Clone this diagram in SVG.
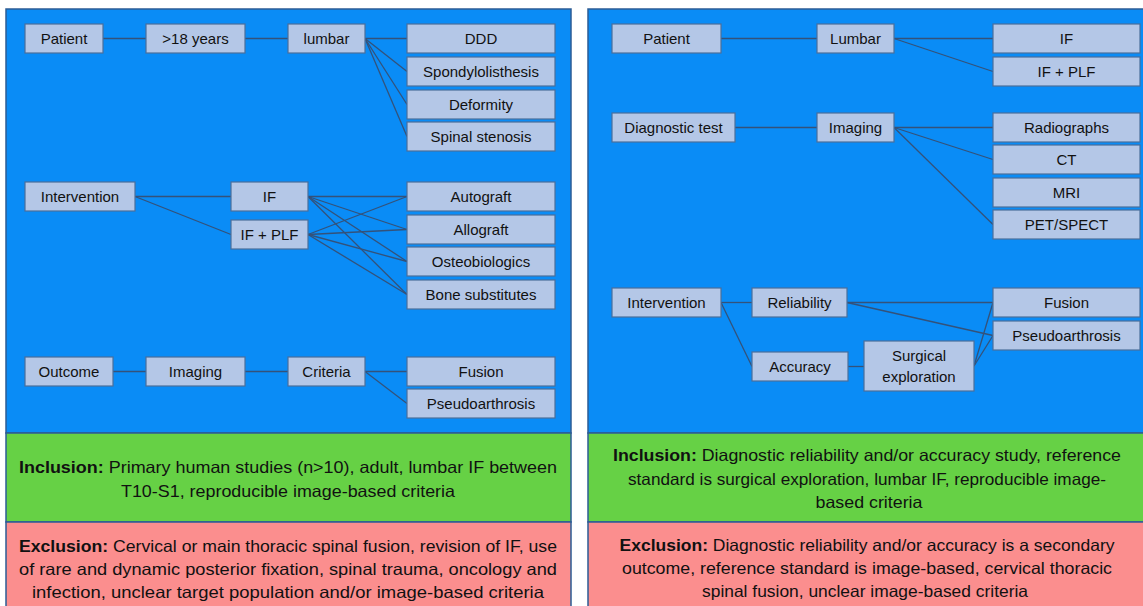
<svg xmlns="http://www.w3.org/2000/svg" width="1143" height="606" viewBox="0 0 1143 606">
<style>
.bg{fill:#0A8CF6;stroke:#2C5C95;stroke-width:1.5}
.inc{fill:#66D145;stroke:#2C5C95;stroke-width:1.5}
.exc{fill:#FB8E8E;stroke:#2C5C95;stroke-width:1.5}
.n rect{fill:#B4C7E7;stroke:#4A6E9C;stroke-width:1.2}
.n text{font-family:"Liberation Sans",Arial,sans-serif;font-size:15px;fill:#111;text-anchor:middle}
.c line{stroke:#34527A;stroke-width:1.3}
.t{font-family:"Liberation Sans",Arial,sans-serif;font-size:16.5px;fill:#111;text-anchor:middle}
.b{font-weight:bold}
</style>
<rect width="1143" height="606" fill="#ffffff"/>
<g id="panel-left">
<rect class="bg" x="6" y="9" width="565" height="424"/>
<rect class="inc" x="6" y="433" width="565" height="89"/>
<rect class="exc" x="6" y="522" width="565" height="90"/>
</g>
<g id="panel-right">
<rect class="bg" x="588" y="9" width="560" height="424"/>
<rect class="inc" x="588" y="433" width="560" height="89"/>
<rect class="exc" x="588" y="522" width="560" height="90"/>
</g>
<g id="connectors" class="c">
<line x1="103" y1="38.5" x2="146" y2="38.5"/>
<line x1="245" y1="38.5" x2="288" y2="38.5"/>
<line x1="365" y1="38.5" x2="407" y2="38.5"/>
<line x1="365" y1="38.5" x2="407" y2="71.5"/>
<line x1="365" y1="38.5" x2="407" y2="104.5"/>
<line x1="365" y1="38.5" x2="407" y2="136.5"/>
<line x1="135" y1="196.5" x2="231" y2="196.5"/>
<line x1="135" y1="196.5" x2="231" y2="234.5"/>
<line x1="308" y1="196.5" x2="407" y2="196.5"/>
<line x1="308" y1="196.5" x2="407" y2="229.5"/>
<line x1="308" y1="196.5" x2="407" y2="261.5"/>
<line x1="308" y1="196.5" x2="407" y2="294.5"/>
<line x1="308" y1="234.5" x2="407" y2="196.5"/>
<line x1="308" y1="234.5" x2="407" y2="229.5"/>
<line x1="308" y1="234.5" x2="407" y2="261.5"/>
<line x1="308" y1="234.5" x2="407" y2="294.5"/>
<line x1="113" y1="371.5" x2="146" y2="371.5"/>
<line x1="245" y1="371.5" x2="288" y2="371.5"/>
<line x1="365" y1="371.5" x2="407" y2="371.5"/>
<line x1="365" y1="371.5" x2="407" y2="403.5"/>
<line x1="721" y1="38.5" x2="817" y2="38.5"/>
<line x1="894" y1="38.5" x2="993" y2="38.5"/>
<line x1="894" y1="38.5" x2="993" y2="71.5"/>
<line x1="735" y1="127.5" x2="817" y2="127.5"/>
<line x1="894" y1="127.5" x2="993" y2="127.5"/>
<line x1="894" y1="127.5" x2="993" y2="159.5"/>
<line x1="894" y1="127.5" x2="993" y2="224.5"/>
<line x1="721" y1="302.5" x2="752" y2="302.5"/>
<line x1="721" y1="302.5" x2="752" y2="366.5"/>
<line x1="847" y1="302.5" x2="993" y2="302.5"/>
<line x1="847" y1="302.5" x2="993" y2="335.5"/>
<line x1="848" y1="366.5" x2="864" y2="366.5"/>
<line x1="974" y1="366" x2="993" y2="302.5"/>
<line x1="974" y1="366" x2="993" y2="335.5"/>
</g>
<g id="l-patient" class="n"><rect x="25" y="24" width="78" height="29"/><text x="64" y="43.5">Patient</text></g>
<g id="l-age" class="n"><rect x="146" y="24" width="99" height="29"/><text x="195.5" y="43.5">&gt;18 years</text></g>
<g id="l-lumbar" class="n"><rect x="288" y="24" width="77" height="29"/><text x="326.5" y="43.5">lumbar</text></g>
<g id="l-ddd" class="n"><rect x="407" y="24" width="148" height="29"/><text x="481" y="43.5">DDD</text></g>
<g id="l-spondy" class="n"><rect x="407" y="57" width="148" height="29"/><text x="481" y="76.5">Spondylolisthesis</text></g>
<g id="l-deformity" class="n"><rect x="407" y="90" width="148" height="29"/><text x="481" y="109.5">Deformity</text></g>
<g id="l-stenosis" class="n"><rect x="407" y="122" width="148" height="29"/><text x="481" y="141.5">Spinal stenosis</text></g>
<g id="l-intervention" class="n"><rect x="25" y="182" width="110" height="29"/><text x="80" y="201.5">Intervention</text></g>
<g id="l-if" class="n"><rect x="231" y="182" width="77" height="29"/><text x="269.5" y="201.5">IF</text></g>
<g id="l-ifplf" class="n"><rect x="231" y="220" width="77" height="29"/><text x="269.5" y="239.5">IF + PLF</text></g>
<g id="l-autograft" class="n"><rect x="407" y="182" width="148" height="29"/><text x="481" y="201.5">Autograft</text></g>
<g id="l-allograft" class="n"><rect x="407" y="215" width="148" height="29"/><text x="481" y="234.5">Allograft</text></g>
<g id="l-osteo" class="n"><rect x="407" y="247" width="148" height="29"/><text x="481" y="266.5">Osteobiologics</text></g>
<g id="l-bone" class="n"><rect x="407" y="280" width="148" height="29"/><text x="481" y="299.5">Bone substitutes</text></g>
<g id="l-outcome" class="n"><rect x="25" y="357" width="88" height="29"/><text x="69" y="376.5">Outcome</text></g>
<g id="l-imaging" class="n"><rect x="146" y="357" width="99" height="29"/><text x="195.5" y="376.5">Imaging</text></g>
<g id="l-criteria" class="n"><rect x="288" y="357" width="77" height="29"/><text x="326.5" y="376.5">Criteria</text></g>
<g id="l-fusion" class="n"><rect x="407" y="357" width="148" height="29"/><text x="481" y="376.5">Fusion</text></g>
<g id="l-pseudo" class="n"><rect x="407" y="389" width="148" height="29"/><text x="481" y="408.5">Pseudoarthrosis</text></g>
<g id="r-patient" class="n"><rect x="612" y="24" width="109" height="29"/><text x="666.5" y="43.5">Patient</text></g>
<g id="r-lumbar" class="n"><rect x="817" y="24" width="77" height="29"/><text x="855.5" y="43.5">Lumbar</text></g>
<g id="r-if" class="n"><rect x="993" y="24" width="147" height="29"/><text x="1066.5" y="43.5">IF</text></g>
<g id="r-ifplf" class="n"><rect x="993" y="57" width="147" height="29"/><text x="1066.5" y="76.5">IF + PLF</text></g>
<g id="r-diag" class="n"><rect x="612" y="113" width="123" height="29"/><text x="673.5" y="132.5">Diagnostic test</text></g>
<g id="r-imaging" class="n"><rect x="817" y="113" width="77" height="29"/><text x="855.5" y="132.5">Imaging</text></g>
<g id="r-radio" class="n"><rect x="993" y="113" width="147" height="29"/><text x="1066.5" y="132.5">Radiographs</text></g>
<g id="r-ct" class="n"><rect x="993" y="145" width="147" height="29"/><text x="1066.5" y="164.5">CT</text></g>
<g id="r-mri" class="n"><rect x="993" y="178" width="147" height="29"/><text x="1066.5" y="197.5">MRI</text></g>
<g id="r-pet" class="n"><rect x="993" y="210" width="147" height="29"/><text x="1066.5" y="229.5">PET/SPECT</text></g>
<g id="r-intervention" class="n"><rect x="612" y="288" width="109" height="29"/><text x="666.5" y="307.5">Intervention</text></g>
<g id="r-reliability" class="n"><rect x="752" y="288" width="95" height="29"/><text x="799.5" y="307.5">Reliability</text></g>
<g id="r-accuracy" class="n"><rect x="752" y="352" width="96" height="29"/><text x="800" y="371.5">Accuracy</text></g>
<g id="r-surgical" class="n"><rect x="864" y="341" width="110" height="50"/><text x="919" y="361">Surgical</text><text x="919" y="382">exploration</text></g>
<g id="r-fusion" class="n"><rect x="993" y="288" width="147" height="29"/><text x="1066.5" y="307.5">Fusion</text></g>
<g id="r-pseudo" class="n"><rect x="993" y="321" width="147" height="29"/><text x="1066.5" y="340.5">Pseudoarthrosis</text></g>
<g id="l-inclusion">
<text class="t" x="288" y="473" textLength="538" lengthAdjust="spacingAndGlyphs"><tspan class="b">Inclusion:</tspan> Primary human studies (n&gt;10), adult, lumbar IF between</text>
<text class="t" x="288" y="497" textLength="334" lengthAdjust="spacingAndGlyphs">T10-S1, reproducible image-based criteria</text>
</g>
<g id="l-exclusion">
<text class="t" x="288" y="552" textLength="538" lengthAdjust="spacingAndGlyphs"><tspan class="b">Exclusion:</tspan> Cervical or main thoracic spinal fusion, revision of IF, use</text>
<text class="t" x="288" y="575" textLength="538" lengthAdjust="spacingAndGlyphs">of rare and dynamic posterior fixation, spinal trauma, oncology and</text>
<text class="t" x="288" y="598" textLength="512" lengthAdjust="spacingAndGlyphs">infection, unclear target population and/or image-based criteria</text>
</g>
<g id="r-inclusion">
<text class="t" x="867" y="461" textLength="508" lengthAdjust="spacingAndGlyphs"><tspan class="b">Inclusion:</tspan> Diagnostic reliability and/or accuracy study, reference</text>
<text class="t" x="867" y="485" textLength="478" lengthAdjust="spacingAndGlyphs">standard is surgical exploration, lumbar IF, reproducible image-</text>
<text class="t" x="869" y="508" textLength="107" lengthAdjust="spacingAndGlyphs">based criteria</text>
</g>
<g id="r-exclusion">
<text class="t" x="867" y="551" textLength="495" lengthAdjust="spacingAndGlyphs"><tspan class="b">Exclusion:</tspan> Diagnostic reliability and/or accuracy is a secondary</text>
<text class="t" x="867" y="574" textLength="490" lengthAdjust="spacingAndGlyphs">outcome, reference standard is image-based, cervical thoracic</text>
<text class="t" x="865" y="597" textLength="326" lengthAdjust="spacingAndGlyphs">spinal fusion, unclear image-based criteria</text>
</g>
</svg>
